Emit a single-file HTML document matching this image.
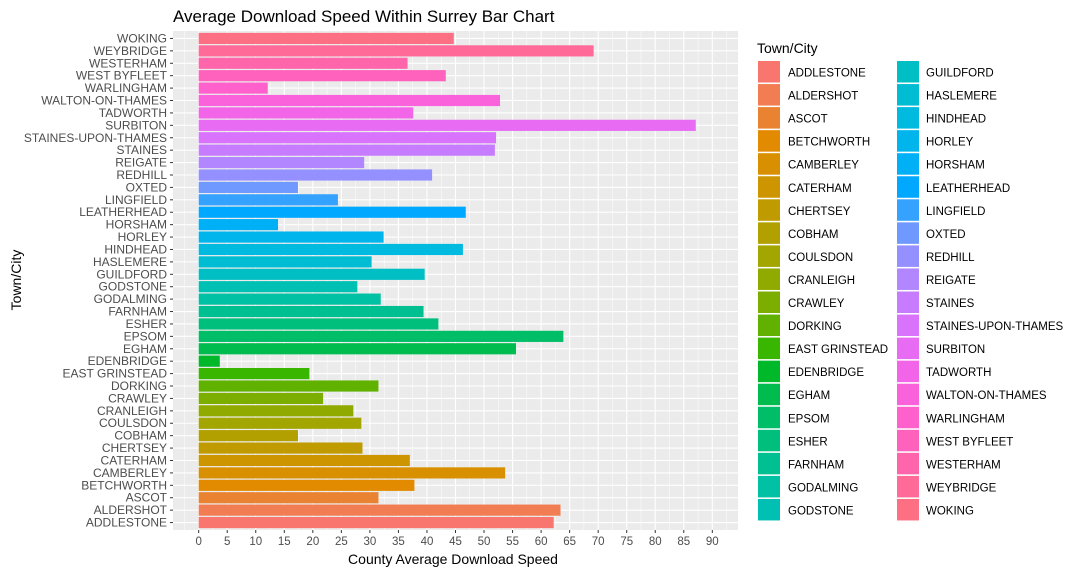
<!DOCTYPE html>
<html><head><meta charset="utf-8">
<style>
html,body{margin:0;padding:0;background:#fff;}
svg{display:block;font-family:"Liberation Sans",Arial,sans-serif;}
</style></head>
<body>
<svg id="chart" width="1079" height="574" viewBox="0 0 1079 574">
<text x="173" y="22" font-size="17" fill="#000">Average Download Speed Within Surrey Bar Chart</text>
<rect id="panel" x="173" y="31" width="565" height="499" fill="#EBEBEB"/>
<g id="grid"></g>
<g id="bars"></g>
<g id="yaxis"></g>
<g id="xaxis"></g>
<text x="453" y="564" font-size="14" text-anchor="middle" fill="#000">County Average Download Speed</text>
<text transform="translate(21,280) rotate(-90)" font-size="14" text-anchor="middle" fill="#000">Town/City</text>
<g id="legend">
<text x="757" y="53" font-size="14" fill="#000">Town/City</text>
</g>
</svg>
<script>
const categories = ["ADDLESTONE","ALDERSHOT","ASCOT","BETCHWORTH","CAMBERLEY","CATERHAM","CHERTSEY","COBHAM","COULSDON","CRANLEIGH","CRAWLEY","DORKING","EAST GRINSTEAD","EDENBRIDGE","EGHAM","EPSOM","ESHER","FARNHAM","GODALMING","GODSTONE","GUILDFORD","HASLEMERE","HINDHEAD","HORLEY","HORSHAM","LEATHERHEAD","LINGFIELD","OXTED","REDHILL","REIGATE","STAINES","STAINES-UPON-THAMES","SURBITON","TADWORTH","WALTON-ON-THAMES","WARLINGHAM","WEST BYFLEET","WESTERHAM","WEYBRIDGE","WOKING"];
const speeds = [62.2,63.4,31.5,37.8,53.7,37.0,28.7,17.4,28.5,27.1,21.8,31.5,19.4,3.7,55.6,63.9,42.0,39.4,31.9,27.8,39.6,30.3,46.3,32.4,13.9,46.8,24.4,17.4,40.9,29.0,51.9,52.1,87.1,37.6,52.8,12.1,43.3,36.6,69.2,44.7];
const xTicks = [0,5,10,15,20,25,30,35,40,45,50,55,60,65,70,75,80,85,90];

const NS="http://www.w3.org/2000/svg";
const PL=173, PR=738, PT=31, PB=530;
const XMIN=-4.5, XMAX=94.5;
const n=categories.length;
function xs(v){return PL+(v-XMIN)/(XMAX-XMIN)*(PR-PL);}
function ys(i){
  const lo=0.4, hi=n+0.6;
  return PB-((i+1)-lo)/(hi-lo)*(PB-PT);
}
function hcl(h,c,l){
  const Xn=95.047,Yn=100,Zn=108.883;
  const un=4*Xn/(Xn+15*Yn+3*Zn), vn=9*Yn/(Xn+15*Yn+3*Zn);
  const hr=h*Math.PI/180, u=c*Math.cos(hr), v=c*Math.sin(hr);
  const Y=Yn*Math.pow((l+16)/116,3);
  const up=u/(13*l)+un, vp=v/(13*l)+vn;
  const X=9*Y*up/(4*vp), Z=(12-3*up-20*vp)*Y/(4*vp);
  const x=X/100,y=Y/100,z=Z/100;
  let r=3.2404542*x-1.5371385*y-0.4985314*z;
  let g=-0.9692660*x+1.8760108*y+0.0415560*z;
  let b=0.0556434*x-0.2040259*y+1.0572252*z;
  const gm=t=>{t=t<=0.0031308?12.92*t:1.055*Math.pow(t,1/2.4)-0.055;return Math.round(Math.max(0,Math.min(1,t))*255);};
  return `rgb(${gm(r)},${gm(g)},${gm(b)})`;
}
const colors=categories.map((c,i)=>hcl(15+360/n*i,100,65));
function mk(tag,attrs,parent){const e=document.createElementNS(NS,tag);for(const k in attrs)e.setAttribute(k,attrs[k]);parent.appendChild(e);return e;}

const grid=document.getElementById('grid');
for(let k=0;k<xTicks.length;k++){
  const t=xTicks[k];
  const gl=mk('line',{x1:xs(t),x2:xs(t),y1:PT,y2:PB,stroke:'#fff','stroke-width':1.1},grid);
  
  
  const mv=t-2.5;
  if(xs(mv)>PL){const ml=mk('line',{x1:xs(mv),x2:xs(mv),y1:PT,y2:PB,stroke:'#fff','stroke-width':0.5},grid);
    
    }
}
{const last=xTicks[xTicks.length-1]+2.5;if(xs(last)<PR){const ml=mk('line',{x1:xs(last),x2:xs(last),y1:PT,y2:PB,stroke:'#fff','stroke-width':0.5},grid);
  
  }}
for(let i=0;i<n;i++){
  const gl=mk('line',{x1:PL,x2:PR,y1:ys(i),y2:ys(i),stroke:'#fff','stroke-width':1.1},grid);
  
  
}
const bars=document.getElementById('bars');
const step=(PB-PT)/(n+0.2);
for(let i=0;i<n;i++){
  const x0=xs(0),x1=xs(speeds[i]);
  const r=mk('rect',{x:x0,y:ys(i)-0.45*step,width:x1-x0,height:0.9*step,fill:colors[i]},bars);
  
  
}
const ya=document.getElementById('yaxis');
for(let i=0;i<n;i++){
  mk('line',{x1:PL-3,x2:PL,y1:ys(i),y2:ys(i),stroke:'#333','stroke-width':1},ya);
  const t=mk('text',{x:PL-6,y:ys(i)+4,'font-size':12,'text-anchor':'end',fill:'#4D4D4D'},ya);
  t.textContent=categories[i];
  
  
}
const xa=document.getElementById('xaxis');
for(const v of xTicks){
  mk('line',{x1:xs(v),x2:xs(v),y1:PB,y2:PB+3,stroke:'#333','stroke-width':1},xa);
  const t=mk('text',{x:xs(v),y:PB+15,'font-size':11.5,'text-anchor':'middle',fill:'#4D4D4D'},xa);
  t.textContent=v;
  
  
}
const lg=document.getElementById('legend');
for(let i=0;i<n;i++){
  const col=Math.floor(i/20), row=i%20;
  const kx=col?897:758, tx=col?926:788, ky=61+row*23.05;
  const k=mk('rect',{x:kx,y:ky,width:22,height:21.5,fill:colors[i]},lg);
  
  
  const t=mk('text',{x:tx,y:ky+15.5,'font-size':11.5,fill:'#000'},lg);
  t.textContent=categories[i];
  
  
}
</script>
</body></html>
